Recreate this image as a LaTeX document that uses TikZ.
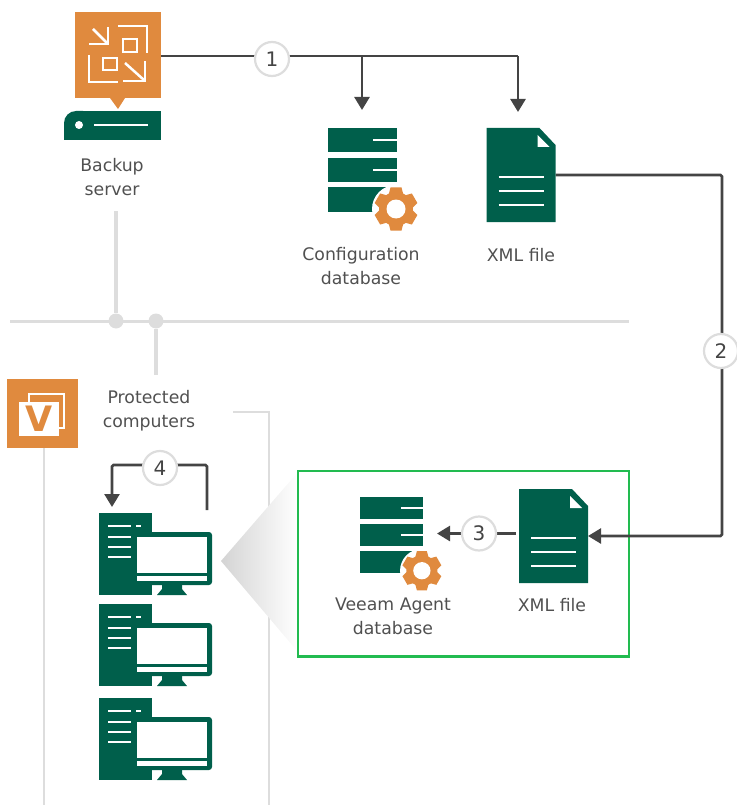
\documentclass[tikz,border=0pt]{standalone}
\usepackage{fontspec}
\setmainfont{DejaVu Sans}
\usetikzlibrary{arrows.meta,backgrounds}
\definecolor{vgreen}{HTML}{005F4B}
\definecolor{vorange}{HTML}{E08A3E}
\definecolor{vgrey}{HTML}{DDDDDD}
\definecolor{vdark}{HTML}{444444}
\definecolor{vtext}{HTML}{505050}
\definecolor{vbox}{HTML}{22BB50}
\tikzset{
  x=1pt,y=-1pt,
  anchorbox/.style={rectangle,inner sep=0pt,outer sep=0pt,minimum width=#1},
  greyline/.style={draw=vgrey,line width=2.6pt},
  greybus/.style={draw=vgrey,line width=3.6pt},
  flow/.style={draw=vdark,line width=2.6pt,rounded corners=1.5pt},
  flowarrow/.style={flow,-{Triangle[length=13pt,width=15pt]}},
  stepnum/.style={circle,fill=white,draw=vgrey,line width=2.2pt,minimum size=34pt,inner sep=0pt,text=vdark,font=\fontsize{20}{20}\selectfont},
  lbl/.style={align=center,text=vtext,font=\fontsize{17.3}{24}\selectfont,inner sep=0pt},
  wline/.style={draw=white,line width=1.8pt},
}
\newcommand{\dbicon}[4]{% x,y,scale,gearangle
  \begin{scope}[shift={(#1,#2)},scale=#3]
    \fill[vgreen] (0,0) rectangle (69,24);
    \fill[vgreen] (0,30) rectangle (69,54);
    \fill[vgreen] (0,59) rectangle (69,84);
    \draw[wline] (45,12) -- (69,12);
    \draw[wline] (45,42) -- (69,42);
    \fill[white] (68,81) circle (24);
    \begin{scope}[shift={(68,81)}]
      \foreach \a in {0,60,...,300}{
        \fill[vorange,rotate=\a+#4] (-5.5,-21.5) -- (5.5,-21.5) -- (8,-12) -- (-8,-12) -- cycle;
      }
      \fill[vorange] (0,0) circle (17);
      \fill[white] (0,0) circle (9.5);
    \end{scope}
  \end{scope}
}
\newcommand{\xmlicon}[2]{% x,y
  \begin{scope}[shift={(#1,#2)}]
    \fill[vgreen] (0,0) -- (53,0) -- (69,17) -- (69,94) -- (0,94) -- cycle;
    \fill[white] (51,7) -- (51,19) -- (63,19) -- cycle;
    \draw[wline] (12,49) -- (57,49);
    \draw[wline] (12,63) -- (57,63);
    \draw[wline] (12,77) -- (57,77);
  \end{scope}
}
\newcommand{\pcicon}[1]{% y of tower top
  \begin{scope}[shift={(99,#1)}]
    \fill[vgreen] (0,0) rectangle (53,82);
    \fill[vgreen,rounded corners=3pt] (36,19) rectangle (113,72);
    \fill[vgreen] (63,72) -- (83,72) -- (83,76) -- (88,82) -- (58,82) -- (63,76) -- cycle;
    \fill[white] (38,24) rectangle (108,60);
    \fill[white] (38,63) rectangle (108,68);
    \draw[wline] (9,13) -- (32,13);
    \draw[wline] (37,13) -- (42,13);
    \draw[wline] (9,24) -- (32,24);
    \draw[wline] (9,34) -- (32,34);
    \draw[wline] (9,44) -- (32,44);
  \end{scope}
}
\begin{document}
\begin{tikzpicture}
\useasboundingbox (0,0) rectangle (736,805);

% server
\fill[vorange] (75,12) rectangle (161,98);
\fill[vorange] (110,98) -- (118,109) -- (125,98) -- cycle;
\fill[vgreen,rounded corners=12pt] (64,140) -- (64,111) -- (95,111) -- (95,140) -- cycle;
\fill[vgreen] (80,111) rectangle (161,140);
\fill[vgreen] (64,126) rectangle (84,140);
\fill[white] (79,125) circle (4);
\draw[wline] (94,125) -- (148,125);
\begin{scope}[draw=white,line width=2.5pt]
  \draw (118,26) -- (147,26) -- (147,53);
  \draw (89,55) -- (89,82) -- (118,82);
  \draw (123,39) rectangle (137,52);
  \draw (103,58) rectangle (117,70);
  \draw (93,29) -- (107,43);
  \draw (108,27) -- (108,44) -- (89,44);
  \draw (125,63) -- (144,80);
  \draw (123,81) -- (145,81) -- (145,61);
\end{scope}
\node[anchorbox=86pt,minimum height=88pt] (server) at (118,56) {};
\node[lbl] (serverlabel) at (112,177) {Backup\\server};

% databases and files
\dbicon{328}{128}{1}{0}
\node[anchorbox=69pt,minimum height=84pt] (dbA) at (362.5,170) {};
\node[lbl] (dbAlabel) at (361,266) {Configuration\\database};
\xmlicon{486.5}{128}
\node[anchorbox=69pt,minimum height=94pt] (xmlA) at (521,175) {};
\node[lbl] (xmlAlabel) at (521,255) {XML file};

\dbicon{360}{497}{0.91}{0}
\node[anchorbox=63pt,minimum height=77pt] (dbB) at (391.5,535.5) {};
\node[lbl] (dbBlabel) at (393,616) {Veeam Agent\\database};
\xmlicon{519}{489}
\node[anchorbox=69pt,minimum height=94pt] (xmlB) at (553.5,536) {};
\node[lbl] (xmlBlabel) at (552,605) {XML file};

% Veeam Agent box
\fill[vorange] (7,379) rectangle (78,448);
\draw[white,line width=2.2pt] (29,402) -- (29,394) -- (64,394) -- (64,428) -- (59,428);
\fill[white] (19,402) rectangle (59,436);
\node[anchorbox=71pt,minimum height=69pt] (agent) at (42.5,413.5) {};
\node[inner sep=0pt,text=vorange,font=\fontsize{35}{35}\selectfont\bfseries] (vmark) at (39,419) {V};
\node[lbl] (protected) at (149,411) {Protected\\computers};

% computers
\pcicon{513}
\pcicon{604}
\pcicon{698}
\node[anchorbox=113pt,minimum height=82pt] (pcA) at (155.5,554) {};

% junctions and step numbers
\node[circle,fill=vgrey,minimum size=15pt,inner sep=0pt] (jA) at (116,321) {};
\node[circle,fill=vgrey,minimum size=15pt,inner sep=0pt] (jB) at (156,321) {};
\node[stepnum] (s1) at (272,59) {1};
\node[stepnum] (s2) at (721,351) {2};
\node[stepnum] (s3) at (479,533.5) {3};
\node[stepnum] (s4) at (160,468) {4};

% free ends and bends
\coordinate (busL) at (10,321);
\coordinate (busR) at (629,321);
\coordinate (upEnd) at (116,211);
\coordinate (downEnd) at (156,375);
\coordinate (agentEnd) at (44,805);
\coordinate (brStart) at (233,412);
\coordinate (brCorner) at (269,412);
\coordinate (brEnd) at (269,805);
\coordinate (tipA) at (362,110);
\coordinate (tipB) at (518,112);
\coordinate (branchA) at (362,56);
\coordinate (branchB) at (518,56);
\coordinate (rightTop) at (722,175);
\coordinate (rightBot) at (722,536);
\coordinate (tipC) at (437,533.5);
\coordinate (fromXmlB) at (516,533.5);
\coordinate (s4R) at (207,510);
\coordinate (s4RT) at (207,465);
\coordinate (s4LT) at (112,465);
\coordinate (s4tip) at (112,507);

\begin{scope}[on background layer]
  \draw[greybus] (upEnd) -- (jA);
  \draw[greyline,line width=3pt] (busL) -- (busR);
  \draw[greybus] (jB) -- (downEnd);
  \draw[greyline] (agent.south -| agentEnd) -- (agentEnd);
  \draw[greyline] (brStart) -- (brCorner) -- (brEnd);
  \shade[left color=black!17,right color=white,shading angle=90] (221,561) -- (298,472) -- (298,652) -- cycle;
  \draw[vbox,line width=2.5pt] (298,471) rectangle (629,656.5);
  \draw[flow] (server.east) -- (branchB);
  \draw[flowarrow,rounded corners=0pt] (branchB) -- (tipB);
  \draw[flowarrow,rounded corners=0pt] (branchA) -- (tipA);
  \draw[flowarrow] (xmlA.east) -- (rightTop) -- (rightBot) -- (xmlB.east);
  \draw[flow] (fromXmlB) -- (s3);
  \draw[flowarrow] (s3) -- (tipC);
  \draw[flowarrow] (s4R) -- (s4RT) -- (s4LT) -- (s4tip);
\end{scope}
\end{tikzpicture}
\end{document}
